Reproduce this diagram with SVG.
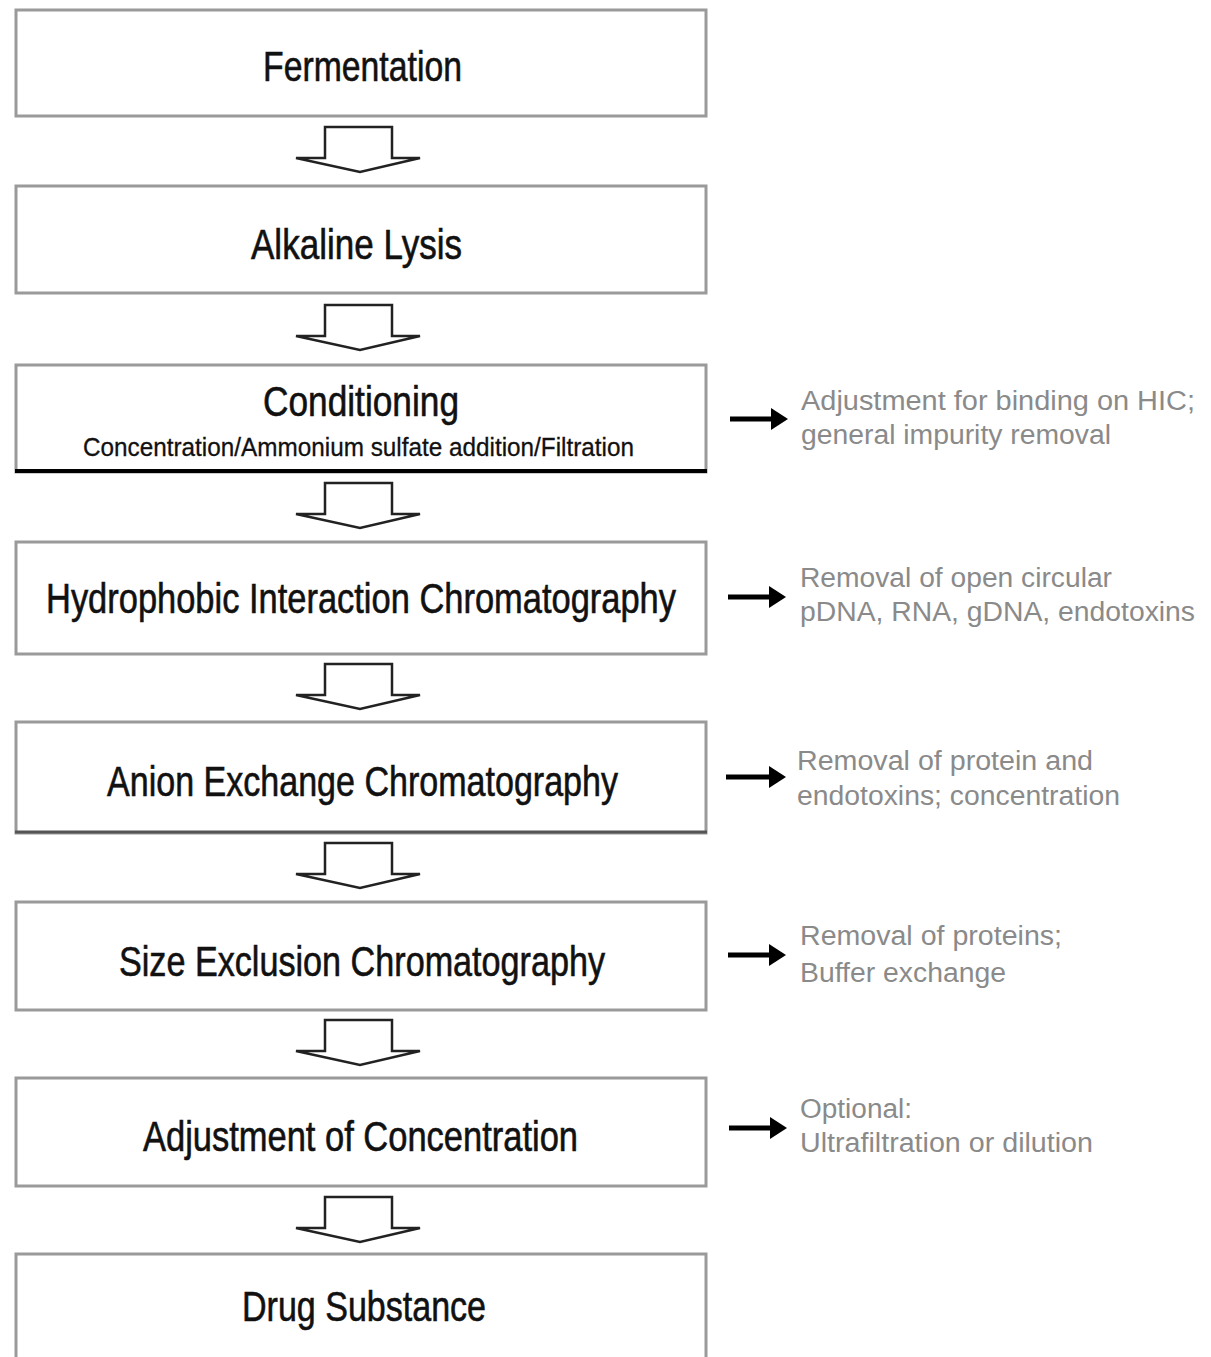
<svg xmlns="http://www.w3.org/2000/svg" width="1211" height="1357" viewBox="0 0 1211 1357">
<style>
.box{fill:#fff;stroke:#9a9a9a;stroke-width:3}
.t{font-family:"Liberation Sans Narrow","Liberation Sans",Arial,sans-serif;font-size:42px;fill:#111;stroke:#111;stroke-width:0.6}
.s{font-family:"Liberation Sans Narrow","Liberation Sans",Arial,sans-serif;font-size:25px;fill:#111;stroke:#111;stroke-width:0.3}
.n{font-family:"Liberation Sans",Arial,sans-serif;font-size:27px;fill:#8a8a8a}
.ba{fill:#fff;stroke:#222;stroke-width:2.5;stroke-linejoin:miter}
.ra{stroke:#000;stroke-width:5;fill:none}
</style>
<defs>
<marker id="ah" markerWidth="5" markerHeight="5" refX="1" refY="2.5" orient="auto" markerUnits="strokeWidth"><path d="M0,0.3 L3.4,2.5 L0,4.7 Z" fill="#000"/></marker>
<path id="blk" d="M-35,31 L-35,0 L32,0 L32,31 L60,31 L0,45 L-64,31 Z"/>
</defs>
<rect width="1211" height="1357" fill="#fff"/>
<g id="connectors">
<use href="#blk" class="ba" x="360" y="127"/>
<use href="#blk" class="ba" x="360" y="305"/>
<use href="#blk" class="ba" x="360" y="483"/>
<use href="#blk" class="ba" x="360" y="664"/>
<use href="#blk" class="ba" x="360" y="843"/>
<use href="#blk" class="ba" x="360" y="1020"/>
<use href="#blk" class="ba" x="360" y="1197"/>
<line class="ra" x1="730" y1="419" x2="776" y2="419" marker-end="url(#ah)"/>
<line class="ra" x1="728" y1="597" x2="774" y2="597" marker-end="url(#ah)"/>
<line class="ra" x1="726" y1="777" x2="774" y2="777" marker-end="url(#ah)"/>
<line class="ra" x1="728" y1="955" x2="774" y2="955" marker-end="url(#ah)"/>
<line class="ra" x1="729" y1="1128" x2="775" y2="1128" marker-end="url(#ah)"/>
</g>
<g id="n1"><rect class="box" x="16" y="10" width="690" height="106"/><text class="t" x="263" y="81" textLength="199" lengthAdjust="spacingAndGlyphs">Fermentation</text></g>
<g id="n2"><rect class="box" x="16" y="186" width="690" height="107"/><text class="t" x="251" y="259" textLength="211" lengthAdjust="spacingAndGlyphs">Alkaline Lysis</text></g>
<g id="n3"><rect class="box" x="16" y="365" width="690" height="107"/><line x1="15" y1="471" x2="707" y2="471" stroke="#000" stroke-width="4"/><text class="t" x="263" y="416" textLength="196" lengthAdjust="spacingAndGlyphs">Conditioning</text><text class="s" x="83" y="456" textLength="551" lengthAdjust="spacingAndGlyphs">Concentration/Ammonium sulfate addition/Filtration</text></g>
<g id="n4"><rect class="box" x="16" y="542" width="690" height="112"/><text class="t" x="46" y="613" textLength="630" lengthAdjust="spacingAndGlyphs">Hydrophobic Interaction Chromatography</text></g>
<g id="n5"><rect class="box" x="16" y="722" width="690" height="111"/><line x1="15" y1="832" x2="707" y2="832" stroke="#555" stroke-width="3"/><text class="t" x="107" y="796" textLength="511" lengthAdjust="spacingAndGlyphs">Anion Exchange Chromatography</text></g>
<g id="n6"><rect class="box" x="16" y="902" width="690" height="108"/><text class="t" x="119" y="976" textLength="486" lengthAdjust="spacingAndGlyphs">Size Exclusion Chromatography</text></g>
<g id="n7"><rect class="box" x="16" y="1078" width="690" height="108"/><text class="t" x="143" y="1151" textLength="435" lengthAdjust="spacingAndGlyphs">Adjustment of Concentration</text></g>
<g id="n8"><rect class="box" x="16" y="1254" width="690" height="110"/><text class="t" x="242" y="1321" textLength="244" lengthAdjust="spacingAndGlyphs">Drug Substance</text></g>
<g id="notes">
<text class="n" x="801" y="410" textLength="394" lengthAdjust="spacingAndGlyphs">Adjustment for binding on HIC;</text>
<text class="n" x="801" y="444" textLength="310" lengthAdjust="spacingAndGlyphs">general impurity removal</text>
<text class="n" x="800" y="587" textLength="312" lengthAdjust="spacingAndGlyphs">Removal of open circular</text>
<text class="n" x="800" y="621" textLength="395" lengthAdjust="spacingAndGlyphs">pDNA, RNA, gDNA, endotoxins</text>
<text class="n" x="797" y="770" textLength="296" lengthAdjust="spacingAndGlyphs">Removal of protein and</text>
<text class="n" x="797" y="805" textLength="323" lengthAdjust="spacingAndGlyphs">endotoxins; concentration</text>
<text class="n" x="800" y="945" textLength="262" lengthAdjust="spacingAndGlyphs">Removal of proteins;</text>
<text class="n" x="800" y="982" textLength="206" lengthAdjust="spacingAndGlyphs">Buffer exchange</text>
<text class="n" x="800" y="1118" textLength="112" lengthAdjust="spacingAndGlyphs">Optional:</text>
<text class="n" x="800" y="1152" textLength="293" lengthAdjust="spacingAndGlyphs">Ultrafiltration or dilution</text>
</g>
</svg>
